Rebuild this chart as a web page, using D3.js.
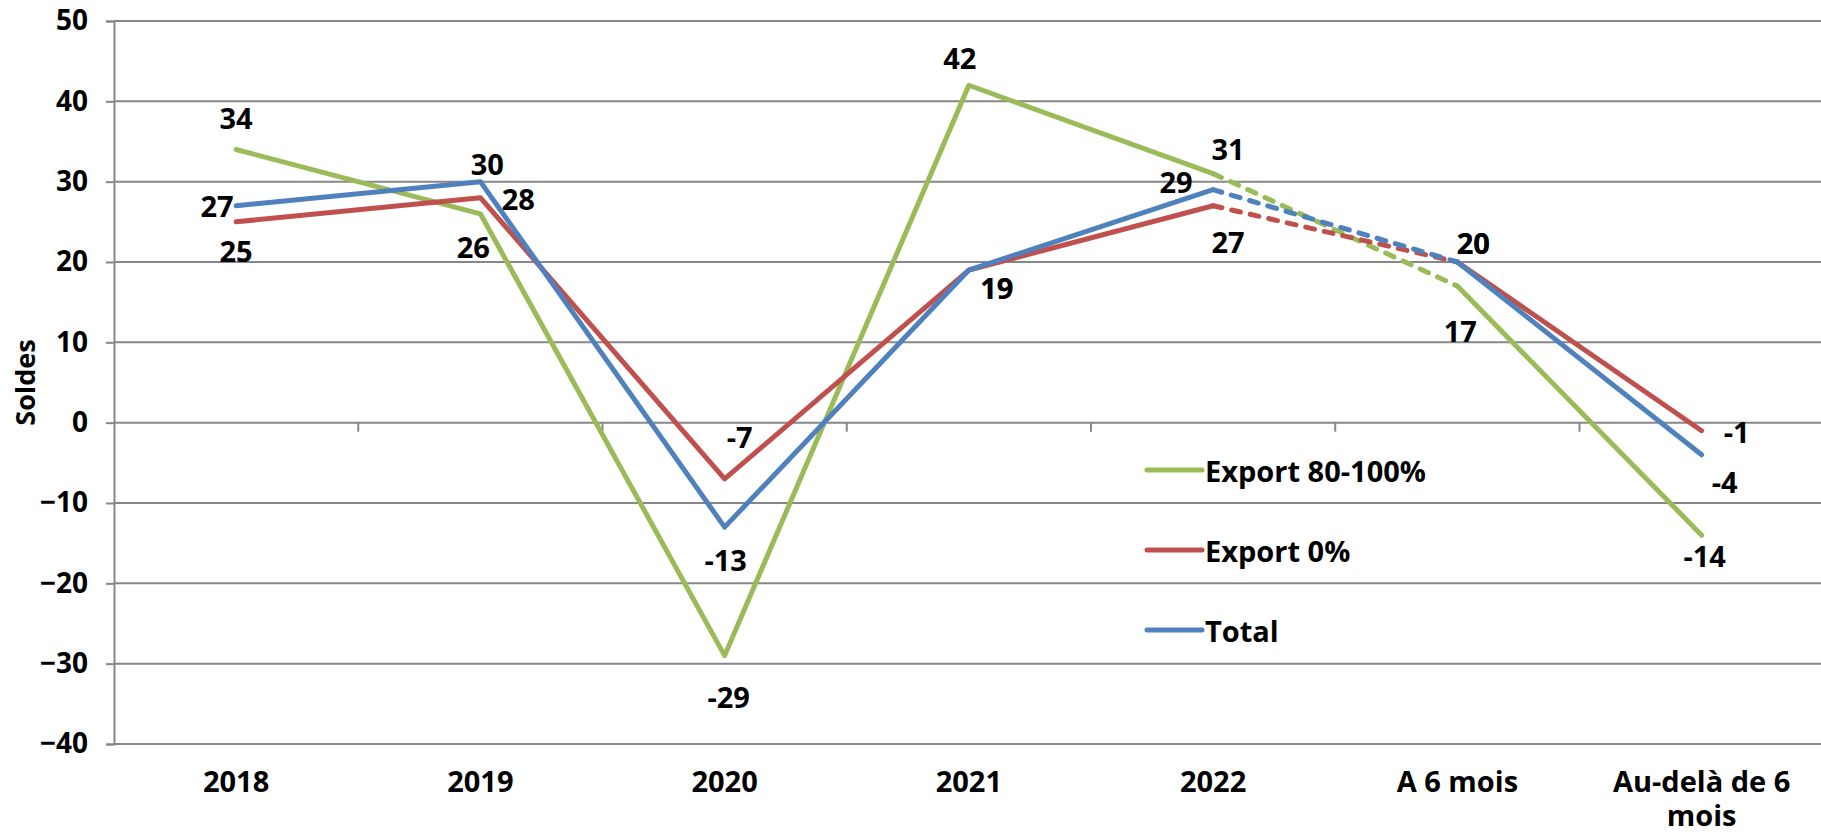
<!DOCTYPE html>
<html><head><meta charset="utf-8">
<script src="https://cdn.jsdelivr.net/npm/d3@7"></script>
<style>
body{margin:0;background:#fff;}
text{font-family:"Open Sans","Noto Sans",sans-serif;font-weight:700;fill:#000;}
</style>
</head><body>
<svg id="chart" width="1821" height="832"></svg>
<script>
// ---- data ----
const categories = ["2018", "2019", "2020", "2021", "2022", "A 6 mois", "Au-delà de 6 mois"];
const export80 = [34, 26, -29, 42, 31, 17, -14];
const export0 = [25, 28, -7, 19, 27, 20, -1];
const total = [27, 30, -13, 19, 29, 20, -4];
const seriesNames = ["Export 80-100%", "Export 0%", "Total"];
const yTickValues = [50, 40, 30, 20, 10, 0, -10, -20, -30, -40];
const yTitle = "Soldes";
const dashedFrom = 4; // segment 2022 -> A 6 mois is dashed

// label placement (pixel offsets from the point), kept apart from data
const offs80 = [[0,-32],[-7,33],[4,41],[-9,-28],[15,-25],[3,44],[3,20]];
const offs0  = [[0,29],[38,1],[15,-42],[28,17],[15,36],[16,-20],[35,1]];
const offsT  = [[-19,0],[7,-18],[1,32],[28,17],[-37,-8],[16,-20],[23,27]];

const colors = ["#9BBB59", "#C0504D", "#4F81BD"];
const series = [
  {name: seriesNames[0], values: export80, color: colors[0], offs: offs80},
  {name: seriesNames[1], values: export0, color: colors[1], offs: offs0},
  {name: seriesNames[2], values: total, color: colors[2], offs: offsT}
];

// ---- layout ----
const svg = d3.select("#chart");
const mLeft = 114, bandW = 244.25, mTop = 21, mBottom = 744;
const FS_TICK = 28, FS = 29;
const x = d3.scaleBand().domain(categories).range([mLeft, mLeft + bandW * categories.length]).padding(0);
const y = d3.scaleLinear().domain([-40, 50]).range([mBottom, mTop]);
const cx = c => x(c) + x.bandwidth() / 2;
const gridColor = "#878787";

// gridlines
svg.append("g").selectAll("line").data(yTickValues).join("line")
  .attr("x1", mLeft).attr("x2", 1821)
  .attr("y1", d => y(d)).attr("y2", d => y(d))
  .attr("stroke", gridColor).attr("stroke-width", 2);

// y axis
const yAxis = svg.append("g").attr("transform", `translate(${mLeft},0)`)
  .call(d3.axisLeft(y).tickValues(yTickValues).tickSize(8).tickPadding(18).tickFormat(d3.format("d")));
yAxis.select(".domain").attr("stroke", gridColor).attr("stroke-width", 2);
yAxis.selectAll(".tick line").attr("stroke", gridColor).attr("stroke-width", 2);
yAxis.selectAll(".tick text").style("font-size", FS_TICK + "px").style("font-family", '"Open Sans","Noto Sans",sans-serif').style("font-weight", 700).attr("fill", "#000");

// x axis at zero: tick marks at category boundaries
const bounds = d3.range(1, categories.length);
svg.append("g").selectAll("line").data(bounds).join("line")
  .attr("x1", i => mLeft + i * x.bandwidth()).attr("x2", i => mLeft + i * x.bandwidth())
  .attr("y1", y(0)).attr("y2", y(0) + 9)
  .attr("stroke", gridColor).attr("stroke-width", 2);

// x labels (wrapped to band width)
const xl = svg.append("g");
categories.forEach(c => {
  const t = xl.append("text").attr("x", cx(c)).attr("y", 780)
    .attr("text-anchor", "middle").attr("dominant-baseline", "central")
    .style("font-size", FS + "px");
  const words = c.split(" ");
  let line = [], lines = [];
  const probe = svg.append("text").style("font-size", FS + "px");
  words.forEach(w => {
    const test = line.concat([w]).join(" ");
    probe.text(test);
    if (probe.node().getComputedTextLength() > 225 && line.length) { lines.push(line.join(" ")); line = [w]; }
    else line.push(w);
  });
  lines.push(line.join(" "));
  probe.remove();
  lines.forEach((l, i) => t.append("tspan").attr("x", cx(c)).attr("dy", i === 0 ? 0 : 34).text(l));
});

// y title
svg.append("text").attr("transform", `translate(24,${(mTop + mBottom) / 2}) rotate(-90)`)
  .attr("text-anchor", "middle").attr("dominant-baseline", "central")
  .style("font-size", "27px").text(yTitle);

// lines
const lineGen = d3.line().x(d => cx(d.c)).y(d => y(d.v));
series.forEach(s => {
  const pts = categories.map((c, i) => ({c, v: s.values[i]}));
  const g = svg.append("g");
  const segs = [
    {p: pts.slice(0, dashedFrom + 1), dash: null},
    {p: pts.slice(dashedFrom, dashedFrom + 2), dash: "9,10"},
    {p: pts.slice(dashedFrom + 1), dash: null}
  ];
  segs.forEach(sg => {
    g.append("path").attr("d", lineGen(sg.p)).attr("fill", "none")
      .attr("stroke", s.color).attr("stroke-width", 5)
      .attr("stroke-linejoin", "round").attr("stroke-linecap", "round")
      .attr("stroke-dasharray", sg.dash);
  });
});

// data labels
series.forEach(s => {
  svg.append("g").selectAll("text").data(categories).join("text")
    .attr("x", (c, i) => cx(c) + s.offs[i][0])
    .attr("y", (c, i) => y(s.values[i]) + s.offs[i][1])
    .attr("text-anchor", "middle").attr("dominant-baseline", "central")
    .style("font-size", FS + "px")
    .text((c, i) => s.values[i]);
});

// legend
const legY = [470, 550, 630];
series.forEach((s, i) => {
  svg.append("line").attr("x1", 1147).attr("x2", 1202).attr("y1", legY[i]).attr("y2", legY[i])
    .attr("stroke", s.color).attr("stroke-width", 5).attr("stroke-linecap", "round");
  svg.append("text").attr("x", 1205).attr("y", legY[i]).attr("dominant-baseline", "central")
    .style("font-size", FS + "px").text(s.name);
});
</script>
</body></html>
